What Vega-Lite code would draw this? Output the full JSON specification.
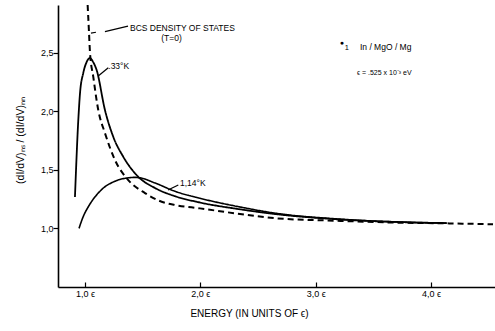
{
  "$schema": "https://vega.github.io/schema/vega-lite/v6.json",
  "width": 437,
  "height": 282,
  "autosize": {"type": "none"},
  "padding": {"left": 58, "top": 5, "right": 0, "bottom": 44},
  "background": "white",
  "config": {
    "view": {"stroke": null},
    "font": "Liberation Sans",
    "axis": {
      "grid": false,
      "domainColor": "black",
      "domainWidth": 1.6,
      "tickColor": "black",
      "tickWidth": 1.2,
      "labelColor": "black",
      "labelFont": "Liberation Sans",
      "labelFontSize": 9,
      "titleFont": "Liberation Sans",
      "titleFontWeight": "normal",
      "titleColor": "black",
      "titleFontSize": 10
    }
  },
  "datasets": {
    "curves": [
      {"E": 1.023, "ratio": 2.906, "curve": "BCS (T=0)"},
      {"E": 1.035, "ratio": 2.667, "curve": "BCS (T=0)"},
      {"E": 1.043, "ratio": 2.504, "curve": "BCS (T=0)"},
      {"E": 1.072, "ratio": 2.291, "curve": "BCS (T=0)"},
      {"E": 1.115, "ratio": 2.009, "curve": "BCS (T=0)"},
      {"E": 1.173, "ratio": 1.812, "curve": "BCS (T=0)"},
      {"E": 1.26, "ratio": 1.581, "curve": "BCS (T=0)"},
      {"E": 1.375, "ratio": 1.41, "curve": "BCS (T=0)"},
      {"E": 1.52, "ratio": 1.299, "curve": "BCS (T=0)"},
      {"E": 1.665, "ratio": 1.225, "curve": "BCS (T=0)"},
      {"E": 1.78, "ratio": 1.197, "curve": "BCS (T=0)"},
      {"E": 1.997, "ratio": 1.168, "curve": "BCS (T=0)"},
      {"E": 2.344, "ratio": 1.12, "curve": "BCS (T=0)"},
      {"E": 2.662, "ratio": 1.083, "curve": "BCS (T=0)"},
      {"E": 3.182, "ratio": 1.062, "curve": "BCS (T=0)"},
      {"E": 3.76, "ratio": 1.045, "curve": "BCS (T=0)"},
      {"E": 4.136, "ratio": 1.04, "curve": "BCS (T=0)"},
      {"E": 4.538, "ratio": 1.032, "curve": "BCS (T=0)"},

      {"E": 0.913, "ratio": 1.265, "curve": "0.33 K"},
      {"E": 0.942, "ratio": 1.923, "curve": "0.33 K"},
      {"E": 0.957, "ratio": 2.154, "curve": "0.33 K"},
      {"E": 0.985, "ratio": 2.325, "curve": "0.33 K"},
      {"E": 1.015, "ratio": 2.42, "curve": "0.33 K"},
      {"E": 1.043, "ratio": 2.453, "curve": "0.33 K"},
      {"E": 1.07, "ratio": 2.42, "curve": "0.33 K"},
      {"E": 1.101, "ratio": 2.35, "curve": "0.33 K"},
      {"E": 1.173, "ratio": 2.009, "curve": "0.33 K"},
      {"E": 1.245, "ratio": 1.78, "curve": "0.33 K"},
      {"E": 1.332, "ratio": 1.609, "curve": "0.33 K"},
      {"E": 1.462, "ratio": 1.438, "curve": "0.33 K"},
      {"E": 1.607, "ratio": 1.342, "curve": "0.33 K"},
      {"E": 1.78, "ratio": 1.272, "curve": "0.33 K"},
      {"E": 1.997, "ratio": 1.218, "curve": "0.33 K"},
      {"E": 2.344, "ratio": 1.16, "curve": "0.33 K"},
      {"E": 2.662, "ratio": 1.118, "curve": "0.33 K"},
      {"E": 3.182, "ratio": 1.075, "curve": "0.33 K"},
      {"E": 3.76, "ratio": 1.05, "curve": "0.33 K"},
      {"E": 4.136, "ratio": 1.042, "curve": "0.33 K"},

      {"E": 0.948, "ratio": 0.997, "curve": "1.14 K"},
      {"E": 0.99, "ratio": 1.11, "curve": "1.14 K"},
      {"E": 1.029, "ratio": 1.182, "curve": "1.14 K"},
      {"E": 1.145, "ratio": 1.329, "curve": "1.14 K"},
      {"E": 1.26, "ratio": 1.4, "curve": "1.14 K"},
      {"E": 1.375, "ratio": 1.429, "curve": "1.14 K"},
      {"E": 1.43, "ratio": 1.433, "curve": "1.14 K"},
      {"E": 1.477, "ratio": 1.429, "curve": "1.14 K"},
      {"E": 1.607, "ratio": 1.385, "curve": "1.14 K"},
      {"E": 1.78, "ratio": 1.314, "curve": "1.14 K"},
      {"E": 1.997, "ratio": 1.254, "curve": "1.14 K"},
      {"E": 2.344, "ratio": 1.18, "curve": "1.14 K"},
      {"E": 2.662, "ratio": 1.125, "curve": "1.14 K"},
      {"E": 3.182, "ratio": 1.078, "curve": "1.14 K"},
      {"E": 3.76, "ratio": 1.05, "curve": "1.14 K"},
      {"E": 4.136, "ratio": 1.042, "curve": "1.14 K"}
    ]
  },
  "layer": [
    {
      "data": {"name": "curves"},
      "mark": {"type": "line", "color": "black", "clip": true, "interpolate": "monotone"},
      "encoding": {
        "x": {
          "field": "E",
          "type": "quantitative",
          "scale": {"domain": [0.766, 4.555], "nice": false, "zero": false},
          "axis": {
            "values": [1, 2, 3, 4],
            "tickSize": -5,
            "labelPadding": 7,
            "labelExpr": "replace(format(datum.value, '.1f'), '.', ',') + ' ϵ'",
            "title": "ENERGY (IN UNITS OF ϵ)",
            "titleX": 191,
            "titleY": 26,
            "titleAlign": "center",
            "titleBaseline": "middle"
          }
        },
        "y": {
          "field": "ratio",
          "type": "quantitative",
          "scale": {"domain": [0.496, 2.906], "nice": false, "zero": false},
          "axis": {
            "values": [1, 1.5, 2, 2.5],
            "tickSize": 5,
            "labelPadding": 0,
            "labelExpr": "replace(format(datum.value, '.1f'), '.', ',')",
            "title": "(dI/dV)ₙₛ / (dI/dV)ₙₙ",
            "titleX": -38,
            "titleY": 135,
            "titleAngle": -90,
            "titleAlign": "center",
            "titleBaseline": "middle",
            "titleFontSize": 10.5
          }
        },
        "detail": {"field": "curve"},
        "strokeDash": {
          "field": "curve",
          "type": "nominal",
          "scale": {"domain": ["BCS (T=0)", "0.33 K", "1.14 K"], "range": [[6, 4], [1, 0], [1, 0]]},
          "legend": null
        },
        "strokeWidth": {
          "field": "curve",
          "type": "nominal",
          "scale": {"domain": ["BCS (T=0)", "0.33 K", "1.14 K"], "range": [2, 1.6, 1.6]},
          "legend": null
        }
      }
    },
    {
      "data": {"values": [
        {"x": 1.173, "y": 2.678, "x2": 1.373, "y2": 2.726},
        {"x": 1.052, "y": 2.666, "x2": 1.095, "y2": 2.673},
        {"x": 1.115, "y": 2.299, "x2": 1.202, "y2": 2.37},
        {"x": 1.72, "y": 1.325, "x2": 1.809, "y2": 1.368}
      ]},
      "mark": {"type": "rule", "color": "black", "strokeWidth": 1.2},
      "encoding": {
        "x": {"field": "x", "type": "quantitative"},
        "y": {"field": "y", "type": "quantitative"},
        "x2": {"field": "x2"},
        "y2": {"field": "y2"}
      }
    },
    {
      "data": {"values": [
        {"x": 1.39, "y": 2.707, "label": "BCS DENSITY OF STATES"},
        {"x": 1.202, "y": 2.385, "label": ".33°K"},
        {"x": 1.824, "y": 1.387, "label": "1,14°K"},
        {"x": 3.384, "y": 2.547, "label": "In / MgO / Mg"}
      ]},
      "mark": {"type": "text", "align": "left", "baseline": "middle", "fontSize": 8.5, "color": "black"},
      "encoding": {
        "x": {"field": "x", "type": "quantitative"},
        "y": {"field": "y", "type": "quantitative"},
        "text": {"field": "label"}
      }
    },
    {
      "data": {"values": [
        {"x": 1.75, "y": 2.621, "label": "(T=0)"}
      ]},
      "mark": {"type": "text", "align": "center", "baseline": "middle", "fontSize": 8.5, "color": "black"},
      "encoding": {
        "x": {"field": "x", "type": "quantitative"},
        "y": {"field": "y", "type": "quantitative"},
        "text": {"field": "label"}
      }
    },
    {
      "data": {"values": [
        {"x": 3.358, "y": 2.325, "label": "ϵ = .525 x 10⁻³ eV"}
      ]},
      "mark": {"type": "text", "align": "left", "baseline": "middle", "fontSize": 7, "color": "black"},
      "encoding": {
        "x": {"field": "x", "type": "quantitative"},
        "y": {"field": "y", "type": "quantitative"},
        "text": {"field": "label"}
      }
    },
    {
      "data": {"values": [
        {"x": 3.252, "y": 2.54, "label": "1"}
      ]},
      "mark": {"type": "text", "align": "left", "baseline": "middle", "fontSize": 7.5, "color": "black"},
      "encoding": {
        "x": {"field": "x", "type": "quantitative"},
        "y": {"field": "y", "type": "quantitative"},
        "text": {"field": "label"}
      }
    },
    {
      "data": {"values": [
        {"x": 3.228, "y": 2.581, "label": "●"}
      ]},
      "mark": {"type": "text", "align": "center", "baseline": "middle", "fontSize": 7, "color": "black"},
      "encoding": {
        "x": {"field": "x", "type": "quantitative"},
        "y": {"field": "y", "type": "quantitative"},
        "text": {"field": "label"}
      }
    }
  ]
}
